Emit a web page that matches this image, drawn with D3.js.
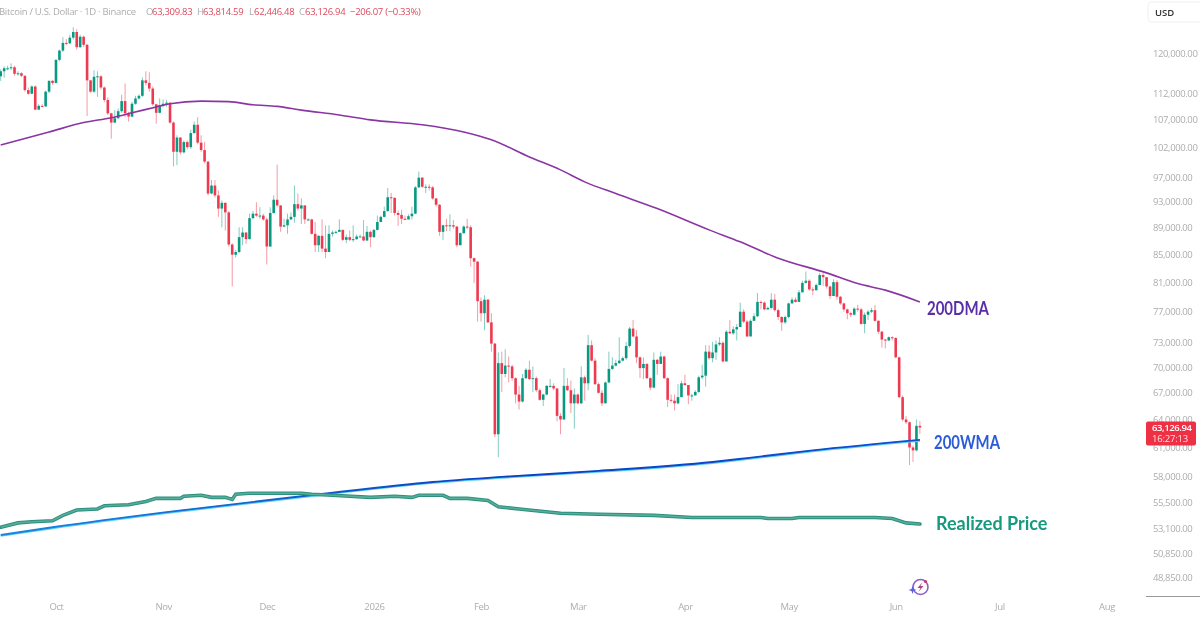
<!DOCTYPE html>
<html>
<head>
<meta charset="utf-8">
<script src="https://cdn.jsdelivr.net/npm/d3@7"></script>
<style>
  html, body { margin: 0; padding: 0; background: #fff; overflow: hidden; }
  svg { display: block; filter: blur(0.35px); }
  .axis text { font-family: "Open Sans", sans-serif; font-size: 9.5px; letter-spacing: -0.4px; fill: #adadad; }
  .axis path, .axis line { display: none; }
  .head { font-family: "Open Sans", sans-serif; font-size: 9.5px; letter-spacing: -0.3px; }
  .tag { font-family: Lato, sans-serif; font-weight: 700; font-size: 18px; }
</style>
</head>
<body>
<svg width="1200" height="617"></svg>
<script>
// daily candles, thousands of USD, first bar is 2025-09-15
var firstDay = "2025-09-15";
var firstOpen = 115.3;
var closes = [
  116.3,116.9,116.9,117.1,115.8,115.9,115.4,112.6,111.9,113.3,
  108.9,109.6,109.5,112.3,114.4,114.0,118.6,120.5,122.1,122.0,
  123.2,124.4,121.2,123.4,121.7,114.5,112.3,115.2,115.3,113.1,
  110.7,108.2,106.5,107.3,108.6,110.5,108.2,107.6,110.0,111.0,
  111.5,114.5,114.0,112.9,109.9,108.3,109.7,110.0,110.2,106.5,
  101.3,103.8,101.2,103.0,102.1,104.6,106.1,102.9,101.6,99.6,
  94.3,95.6,94.0,91.9,92.8,91.3,86.4,84.9,85.3,87.5,
  88.2,87.2,90.4,91.1,90.8,90.8,90.2,86.1,91.2,93.3,
  92.4,89.1,89.3,90.2,90.6,92.6,91.9,92.4,90.2,90.2,
  88.0,86.3,87.7,85.8,85.3,88.0,88.2,88.3,88.6,87.1,
  87.5,87.1,87.2,87.6,87.6,87.0,88.3,87.5,88.6,89.8,
  90.6,91.5,93.7,93.6,91.2,90.9,90.3,90.2,90.7,91.1,
  95.3,96.9,95.4,95.4,95.3,93.5,92.5,88.3,89.3,89.2,
  89.3,89.1,86.3,88.1,89.1,89.0,84.4,83.9,78.4,76.8,
  78.6,75.6,72.9,62.4,70.5,69.2,70.2,70.1,68.7,66.8,
  66.0,68.7,69.7,68.6,68.7,67.3,66.2,66.8,67.8,67.8,
  67.5,64.4,64.0,67.8,67.3,65.8,66.8,65.8,68.8,68.1,
  72.7,70.8,68.0,67.0,65.8,68.2,69.8,70.2,70.5,70.8,
  71.1,72.6,74.8,73.8,71.2,69.9,70.4,68.7,67.6,70.9,
  70.4,71.3,68.7,66.2,66.1,65.8,66.5,68.1,67.9,66.7,
  66.7,67.1,68.8,69.0,71.9,71.1,71.8,72.8,73.0,70.7,
  74.4,74.2,74.7,75.0,77.0,75.7,73.8,75.8,76.4,78.3,
  78.2,77.3,77.5,78.6,77.2,76.3,75.6,76.3,78.1,78.6,
  78.3,79.6,80.9,81.2,80.0,79.9,80.6,82.0,81.7,80.4,
  79.1,81.0,79.0,78.1,77.3,76.8,76.6,77.4,77.3,75.4,
  76.6,77.0,77.2,75.8,74.4,73.4,73.3,73.7,73.6,71.2,
  66.5,64.0,63.7,61.0,60.7,63.31,63.127
];
var highs = [
  116.7,117.3,117.4,117.9,117.4,116.3,116.1,115.5,113.1,113.5,
  113.5,109.9,109.9,112.5,114.5,114.6,118.7,120.7,123.3,122.9,
  123.8,125.4,125.0,123.8,123.6,121.9,114.6,116.5,116.3,115.5,
  113.3,111.2,108.3,108.8,109.1,111.7,113.9,108.5,110.4,111.5,
  111.8,115.1,116.3,116.1,113.3,110.0,111.0,110.8,110.7,110.3,
  106.7,104.2,103.9,103.3,103.3,105.2,106.7,107.5,104.2,103.0,
  99.7,96.5,96.5,94.8,93.2,92.9,91.5,86.6,85.6,89.0,
  89.0,88.2,91.1,91.5,92.9,92.1,91.1,90.5,92.1,94.0,
  99.1,92.4,90.3,91.1,91.3,95.6,94.3,93.5,92.4,90.4,
  90.3,89.8,87.8,90.2,89.3,89.3,88.5,88.5,90.2,88.6,
  87.9,88.5,89.3,87.9,87.9,90.1,89.2,88.5,88.7,90.8,
  90.8,92.2,95.2,94.4,93.7,91.6,91.7,90.8,91.0,92.2,
  95.5,97.9,97.0,95.8,95.8,95.5,93.6,92.6,89.4,90.3,
  91.0,90.1,89.2,88.2,89.3,90.3,89.3,84.5,84.0,78.9,
  79.2,78.7,76.8,73.0,71.8,71.9,72.2,71.3,70.3,68.8,
  67.8,69.2,69.9,70.8,70.1,68.9,67.5,66.9,67.9,68.6,
  68.1,67.5,64.7,69.9,68.7,68.4,67.5,66.9,70.1,69.0,
  74.0,73.3,71.1,68.2,67.3,68.3,71.9,71.2,70.9,73.7,
  71.3,73.1,75.0,75.9,74.6,71.3,71.2,70.5,68.8,71.8,
  71.0,71.9,71.4,68.8,66.8,66.8,68.0,68.4,69.1,67.9,
  66.9,67.3,69.0,70.3,72.7,72.7,73.1,73.3,73.7,73.2,
  74.6,75.9,75.1,75.4,78.2,77.3,75.9,76.0,76.8,79.5,
  78.5,78.4,77.7,79.5,79.4,77.4,76.4,76.5,78.2,78.9,
  78.9,79.9,81.2,82.5,81.4,80.3,80.8,82.3,82.4,81.7,
  80.5,81.4,81.3,79.1,78.2,77.4,77.0,77.6,77.9,77.5,
  76.9,77.2,77.5,77.9,75.9,74.5,73.5,73.8,73.8,73.7,
  71.3,66.7,64.4,63.8,61.2,64.0,63.815
];
var lows = [
  114.4,115.0,116.5,116.5,115.4,115.4,115.1,112.3,111.7,111.8,
  108.8,108.8,109.3,109.4,112.0,113.6,113.9,118.3,120.2,121.6,
  121.9,122.8,120.7,121.1,121.2,107.7,112.1,112.1,111.3,112.7,
  110.3,107.9,103.6,106.4,107.1,108.3,107.5,106.7,107.5,109.8,
  110.8,111.3,113.5,112.3,109.6,106.3,108.2,109.3,109.4,106.3,
  98.8,99.0,100.8,101.0,101.7,101.8,104.5,102.6,101.3,99.3,
  94.0,94.2,93.7,90.6,89.0,88.5,86.1,80.4,84.5,85.1,
  86.3,86.5,87.2,90.2,90.6,90.3,90.0,83.5,86.1,91.1,
  92.1,88.3,89.0,88.0,90.1,89.7,91.6,89.5,89.5,90.0,
  87.9,85.3,85.3,85.3,84.4,85.3,87.6,88.0,88.4,86.9,
  86.6,86.9,86.8,87.1,87.5,86.9,86.9,86.0,87.4,88.5,
  89.8,90.5,91.4,91.2,90.8,89.2,89.5,90.1,90.2,90.2,
  91.0,95.2,95.2,94.4,94.8,93.3,92.2,87.7,87.1,88.4,
  88.4,88.8,86.0,86.3,88.0,88.7,83.2,80.9,75.7,75.7,
  74.6,75.5,71.9,62.1,60.0,67.1,68.8,68.2,68.4,65.8,
  65.1,65.9,68.6,68.5,67.1,67.1,66.1,65.5,66.7,67.6,
  67.3,63.8,62.4,64.0,67.2,64.7,63.0,65.7,65.7,66.1,
  67.3,70.7,67.9,66.9,65.5,65.8,68.1,69.7,70.1,70.4,
  70.7,70.9,72.4,73.7,70.5,68.7,68.6,68.6,67.3,67.5,
  69.1,70.5,68.6,65.4,65.9,65.0,65.7,66.5,67.8,65.7,
  66.1,66.7,67.0,68.6,67.7,70.9,70.6,70.9,72.6,70.6,
  70.7,74.1,74.0,73.3,75.0,75.5,73.7,73.8,75.8,76.3,
  77.3,77.2,77.3,77.3,77.0,75.9,74.5,75.4,76.1,78.1,
  78.2,78.3,79.6,80.8,79.8,79.2,79.8,80.6,80.5,80.1,
  78.7,79.1,78.6,77.9,77.0,76.0,76.3,76.5,77.0,75.3,
  74.2,75.9,76.8,75.7,74.1,72.4,72.3,73.2,73.3,71.1,
  66.4,63.8,63.5,59.2,59.5,60.6,62.446
];

// moving averages and realized price, read at these bars only
var dmaBars = [0,14,24,32,38,45,49,58,66,73,80,87,98,107,122,134,142,153,162,169,178,190,205,214,225,239,248,256,266];
var dmaValues = [102.5,104.8,106.5,107.4,108.3,109.4,110.0,110.5,110.4,109.8,109.5,108.8,107.9,107.0,106.1,104.8,103.4,100.4,98.2,96.2,94.3,91.9,88.6,86.8,84.4,82.3,80.8,79.9,78.3];
var wmaBars = [0,15,48,92,125,145,173,206,216,235,266];
var wmaValues = [52.5,53.2,54.6,56.3,57.5,58.0,58.6,59.5,59.9,60.7,61.8];
var realizedBars = [0,5,9,15,18,22,28,30,37,42,45,52,53,58,61,65,67,68,72,80,87,90,96,107,114,119,121,128,130,135,141,144,150,162,173,189,200,220,222,229,231,245,253,258,262,266];
var realizedValues = [53.2,53.6,53.7,53.8,54.3,54.8,54.9,55.2,55.3,55.6,55.9,55.9,56.1,56.2,56.0,56.0,55.8,56.3,56.4,56.4,56.4,56.3,56.2,56.0,56.1,56.0,56.2,56.2,55.9,55.9,55.7,55.1,54.9,54.5,54.4,54.3,54.1,54.1,54.0,54.0,54.1,54.1,54.1,54.0,53.6,53.5];

var priceTicks = [120,112,107,102,97,93,89,85,81,77,73,70,67,64,61,58,55.5,53.1,50.85,48.85];
var monthTicks = ["2025-10-01","2025-11-01","2025-12-01","2026-01-01","2026-02-01","2026-03-01","2026-04-01","2026-05-01","2026-06-01","2026-07-01","2026-08-01"];
var monthLabels = ["Oct","Nov","Dec","2026","Feb","Mar","Apr","May","Jun","Jul","Aug"];
var headerParts = [
  {t:"Bitcoin / U.S. Dollar \u00b7 1D \u00b7 Binance", x:-1, c:"#adadad"},
  {t:"O", x:146, c:"#adadad"}, {t:"63,309.83", x:152, c:"#dd4a5e"},
  {t:"H", x:197, c:"#adadad"}, {t:"63,814.59", x:203, c:"#dd4a5e"},
  {t:"L", x:249, c:"#adadad"}, {t:"62,446.48", x:254, c:"#dd4a5e"},
  {t:"C", x:299, c:"#adadad"}, {t:"63,126.94", x:305, c:"#dd4a5e"},
  {t:"\u2212206.07 (\u22120.33%)", x:350, c:"#dd4a5e"}
];
var green = "#089981", red = "#ee3a50";

var svg = d3.select("svg");
var parseDay = d3.utcParse("%Y-%m-%d");
var start = parseDay(firstDay);
var barDate = function(i) { return d3.utcDay.offset(start, i) };

var x = d3.scaleUtc().domain([start, parseDay("2026-08-01")]).range([0.7, 1106.5]);
var y = d3.scaleLog().domain([120, 48.85]).range([53, 577]);

// axes
svg.append("g").attr("class", "axis")
  .attr("transform", "translate(1153,0)")
  .call(d3.axisRight(y).tickValues(priceTicks).tickSize(0).tickPadding(0)
    .tickFormat(function(d) { return d3.format(",.2f")(d * 1000) }));

svg.append("g").attr("class", "axis")
  .attr("transform", "translate(0,599.5)")
  .call(d3.axisBottom(x).tickValues(monthTicks.map(parseDay)).tickSize(0).tickPadding(4)
    .tickFormat(function(d, i) { return monthLabels[i] }));

svg.append("line").attr("x1", 1146).attr("x2", 1200).attr("y1", 596.5).attr("y2", 596.5)
  .style("stroke", "#9a9a9a").style("stroke-width", 1);

// usd button
svg.append("rect").attr("x", 1148).attr("y", 2).attr("width", 60).attr("height", 20).attr("rx", 3)
  .style("fill", "#fff").style("stroke", "#f0f0f0");
svg.append("text").attr("x", 1155).attr("y", 15.5).text("USD")
  .style("font", "600 9.5px 'Open Sans', sans-serif").style("fill", "#333");

// header line
svg.append("g").selectAll("text").data(headerParts).enter().append("text")
  .attr("class", "head")
  .attr("x", function(d) { return d.x })
  .attr("y", 15)
  .style("fill", function(d) { return d.c })
  .text(function(d) { return d.t });

// candles
var bars = d3.range(closes.length).map(function(i) {
  return {
    date: barDate(i),
    open: i === 0 ? firstOpen : closes[i - 1],
    close: closes[i], high: highs[i], low: lows[i]
  };
});
var candle = svg.append("g").selectAll("g").data(bars).enter().append("g");
candle.append("line")
  .attr("x1", function(d) { return x(d.date) })
  .attr("x2", function(d) { return x(d.date) })
  .attr("y1", function(d) { return y(d.high) })
  .attr("y2", function(d) { return y(d.low) })
  .style("stroke", function(d) { return d.close >= d.open ? green : red })
  .style("stroke-opacity", 0.5)
  .style("stroke-width", 1);
candle.append("rect")
  .attr("x", function(d) { return x(d.date) - 1.3 })
  .attr("width", 2.6)
  .attr("y", function(d) { return y(Math.max(d.open, d.close)) })
  .attr("height", function(d) { return Math.max(1, Math.abs(y(d.open) - y(d.close))) })
  .style("fill", function(d) { return d.close >= d.open ? green : red });

// lines
var seriesLine = function(barList, curve) {
  return d3.line()
    .x(function(d, i) { return x(barDate(barList[i])) })
    .y(function(d) { return y(d) })
    .curve(curve);
};

svg.append("path").datum(dmaValues)
  .attr("d", seriesLine(dmaBars, d3.curveMonotoneX))
  .style("fill", "none").style("stroke", "#8a35a3").style("stroke-width", 1.6);

var grad = svg.append("defs").append("linearGradient").attr("id", "wmaGrad")
  .attr("gradientUnits", "userSpaceOnUse")
  .attr("x1", 0).attr("x2", 920).attr("y1", 0).attr("y2", 0);
grad.append("stop").attr("offset", "0%").attr("stop-color", "#1a86e0");
grad.append("stop").attr("offset", "55%").attr("stop-color", "#0b3fc0");
grad.append("stop").attr("offset", "100%").attr("stop-color", "#0f4fd0");

svg.append("path").datum(wmaValues)
  .attr("d", seriesLine(wmaBars, d3.curveMonotoneX))
  .attr("transform", "translate(0,0.8)")
  .style("fill", "none").style("stroke", "#59d0f5").style("stroke-width", 2.2);
svg.append("path").datum(wmaValues)
  .attr("d", seriesLine(wmaBars, d3.curveMonotoneX))
  .style("fill", "none").style("stroke", "url(#wmaGrad)").style("stroke-width", 1.9);

svg.append("path").datum(realizedValues)
  .attr("d", seriesLine(realizedBars, d3.curveLinear))
  .style("fill", "none").style("stroke", "#2e8f7c").style("stroke-width", 3.6)
  .style("stroke-linecap", "round");
svg.append("path").datum(realizedValues)
  .attr("d", seriesLine(realizedBars, d3.curveLinear))
  .style("fill", "none").style("stroke", "#55ad9b").style("stroke-width", 1.6);

// hand written labels
svg.append("text").attr("class", "tag").attr("x", 927).attr("y", 315).text("200DMA")
  .attr("textLength", 62).attr("lengthAdjust", "spacingAndGlyphs").style("fill", "#5b2fa8");
svg.append("text").attr("class", "tag").attr("x", 934).attr("y", 449).text("200WMA")
  .attr("textLength", 66).attr("lengthAdjust", "spacingAndGlyphs").style("fill", "#2a5bd8");
svg.append("text").attr("class", "tag").attr("x", 936).attr("y", 530).text("Realized Price").style("fill", "#16997e");

// last price tag
svg.append("rect").attr("x", 1146).attr("y", 421.5).attr("width", 50).attr("height", 24).attr("rx", 2)
  .style("fill", "#ee3045");
svg.append("text").attr("x", 1152).attr("y", 431).text("63,126.94")
  .style("font", "600 9.5px 'Open Sans', sans-serif").style("letter-spacing", "-0.4px").style("fill", "#fff");
svg.append("text").attr("x", 1152).attr("y", 442).text("16:27:13")
  .style("font", "400 9.5px 'Open Sans', sans-serif").style("letter-spacing", "-0.2px").style("fill", "#fde0e3");

// small logo under the last bar
var logo = svg.append("g").attr("transform", "translate(920.5,587)");
logo.append("circle").attr("r", 7.5).style("fill", "none").style("stroke", "#8a5fc8").style("stroke-width", 1.6);
logo.append("path").attr("d", "M2,-5 L-3,1 L0,1 L-2,5 L3,-1 L0,-1 Z").style("fill", "#b0457f");
logo.append("path").attr("d", "M-8,-1 L-7,2 L-4,3 L-7,4 L-8,7 L-9,4 L-12,3 L-9,2 Z").style("fill", "#5b5fd8");
logo.append("circle").attr("cx", 5).attr("cy", -5.5).attr("r", 1.6).style("fill", "#d8344a");
</script>
</body>
</html>
